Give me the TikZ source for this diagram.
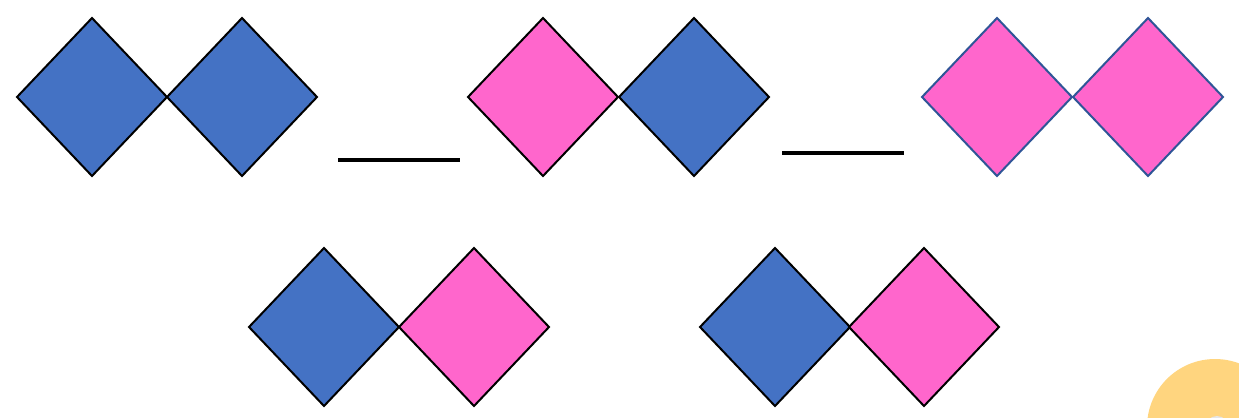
\documentclass[tikz,border=0pt]{standalone}
\usepackage{xcolor}
\usepackage{tikz}
\usetikzlibrary{calc}

\definecolor{tileblue}{HTML}{4472C4}
\definecolor{tilepink}{HTML}{FF66CC}
\definecolor{tileedge}{HTML}{2F5597}
\definecolor{dotyellow}{HTML}{FFD57F}

\tikzset{
    tile/.style={line width=0.04cm, line join=miter, draw=black},
    blank/.style={line width=0.07cm, black},
}

\begin{document}
\begin{tikzpicture}[x=0.02cm, y=-0.02cm]
    % khung hình
    \useasboundingbox (0,0) rectangle (1239,417);

    % 1. Hàng trên: ba cặp hình thoi
    \foreach \cx/\cy/\col in {92/97/tileblue, 242/97/tileblue,
                              543/97/tilepink, 694/97/tileblue}
        \draw[tile, fill=\col] (\cx-75,\cy) -- (\cx,\cy-79) -- (\cx+75,\cy) -- (\cx,\cy+79) -- cycle;

    % cặp thứ ba có viền xanh đậm
    \foreach \cx/\cy in {997/97, 1148/97}
        \draw[tile, draw=tileedge, fill=tilepink] (\cx-75,\cy) -- (\cx,\cy-79) -- (\cx+75,\cy) -- (\cx,\cy+79) -- cycle;

    % 2. Các chỗ trống
    \draw[blank] (338,160) -- (460,160);
    \draw[blank] (782,153) -- (904,153);

    % 3. Hàng dưới: hai cặp đáp án
    \foreach \cx/\cy/\col in {324/327/tileblue, 474/327/tilepink,
                              775/327/tileblue, 924/327/tilepink}
        \draw[tile, fill=\col] (\cx-75,\cy) -- (\cx,\cy-79) -- (\cx+75,\cy) -- (\cx,\cy+79) -- cycle;

    % 4. Hình tròn vàng ở góc
    \begin{scope}
        \clip (0,0) rectangle (1239,417);
        \fill[dotyellow] (1215,427) circle (68);
        \fill[black!10] (1217,428) circle (12);
    \end{scope}
\end{tikzpicture}
\end{document}
